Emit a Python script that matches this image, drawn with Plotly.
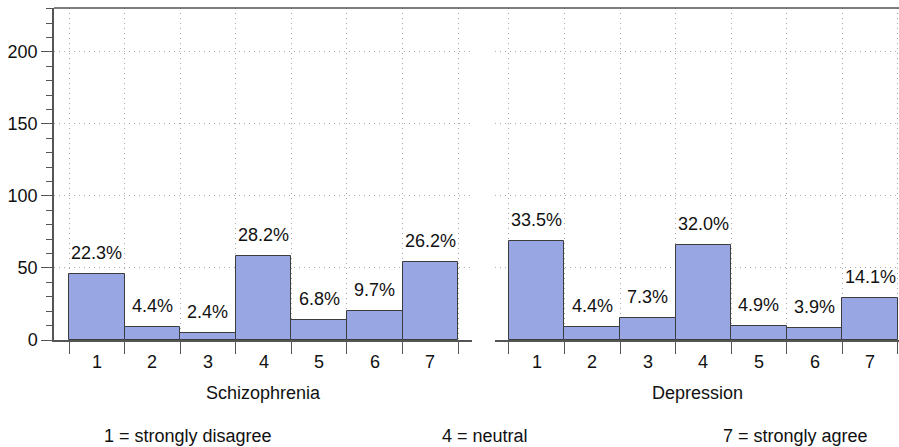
import plotly.graph_objects as go

# Likert responses (1-7) per condition, raw counts
categories = [1, 2, 3, 4, 5, 6, 7]
schizophrenia_counts = [46, 9, 5, 58, 14, 20, 54]
depression_counts = [69, 9, 15, 66, 10, 8, 29]
panel_titles = ["Schizophrenia", "Depression"]
y_tickvals = [0, 50, 100, 150, 200]
scale_notes = ["1 = strongly disagree", "4 = neutral", "7 = strongly agree"]

FONT = "Liberation Sans, Arial, Helvetica, sans-serif"
BAR_FILL = "#98a6e4"
BAR_EDGE = "#3c3c3c"
AXIS_COL = "#555555"
GRID_COL = "#a8a8a8"
GRID_DASH = "1px,4px"
FS = 18

fig = go.Figure()
edges = [c - 0.5 for c in categories] + [categories[-1] + 0.5]

panels = [("x", "y", schizophrenia_counts), ("x2", "y2", depression_counts)]
for xa, ya, counts in panels:
    fig.add_trace(go.Bar(
        x=categories, y=counts, width=1.0, xaxis=xa, yaxis=ya,
        marker=dict(color=BAR_FILL, line=dict(color=BAR_EDGE, width=1)),
        hoverinfo="x+y", showlegend=False,
    ))
    total = sum(counts)
    # percentage labels above each bar
    for c, n in zip(categories, counts):
        fig.add_annotation(
            x=c, y=n, xref=xa, yref=ya, text=f"{n / total * 100:.1f}%",
            showarrow=False, xanchor="center", yanchor="middle", yshift=21,
            font=dict(family=FONT, size=FS, color="#111"),
        )
    # category labels centred under each bar
    for c in categories:
        fig.add_annotation(
            x=c, y=0, xref=xa, yref=ya, text=str(c), showarrow=False,
            xanchor="center", yanchor="middle", yshift=-22,
            font=dict(family=FONT, size=FS, color="#111"),
        )

# panel titles
for i, title in enumerate(panel_titles):
    xr = "x domain" if i == 0 else "x2 domain"
    fig.add_annotation(
        x=0.5, y=0, xref=xr, yref="paper", text=title, showarrow=False,
        xanchor="center", yanchor="middle", yshift=-53,
        font=dict(family=FONT, size=FS, color="#111"),
    )

# scale key along the bottom
for note, px in zip(scale_notes, [0.1586, 0.5101, 0.877]):
    fig.add_annotation(
        x=px, y=0, xref="paper", yref="paper", text=note, showarrow=False,
        xanchor="center", yanchor="middle", yshift=-96,
        font=dict(family=FONT, size=FS, color="#111"),
    )

# frame line across the top
fig.add_shape(type="line", xref="paper", yref="paper", x0=0, x1=1, y0=1, y1=1,
              line=dict(color=AXIS_COL, width=1.5))

xaxis_common = dict(
    tickvals=edges, ticktext=[""] * len(edges), ticks="outside", ticklen=12,
    tickcolor=AXIS_COL, tickwidth=1,
    showline=True, linecolor=AXIS_COL, linewidth=1.5,
    showgrid=True, gridcolor=GRID_COL, griddash=GRID_DASH, gridwidth=1,
    zeroline=False, fixedrange=True,
)
yaxis_common = dict(
    range=[0, 230.5], showgrid=True, gridcolor=GRID_COL, griddash=GRID_DASH,
    gridwidth=1, zeroline=False, fixedrange=True,
)

fig.update_layout(
    width=899, height=447,
    margin=dict(l=54, r=0, t=8, b=107),
    paper_bgcolor="white", plot_bgcolor="white",
    font=dict(family=FONT, size=FS, color="#111"),
    bargap=0,
    xaxis=dict(domain=[0, 0.4947], range=[0.23, 7.75], **xaxis_common),
    xaxis2=dict(domain=[0.5219, 1], range=[0.25, 7.52], anchor="y2", **xaxis_common),
    yaxis=dict(
        tickvals=y_tickvals, ticks="outside", ticklen=11, tickcolor=AXIS_COL,
        showline=True, linecolor=AXIS_COL, linewidth=1.5,
        tickfont=dict(family=FONT, size=FS, color="#111"),
        minor=dict(dtick=10, tick0=0, ticks="outside", ticklen=6,
                   tickcolor=AXIS_COL, showgrid=False),
        **yaxis_common,
    ),
    yaxis2=dict(
        anchor="x2", matches="y", tickvals=y_tickvals, showticklabels=False,
        ticks="", showline=False, **yaxis_common,
    ),
)

fig.write_html("out.html")
